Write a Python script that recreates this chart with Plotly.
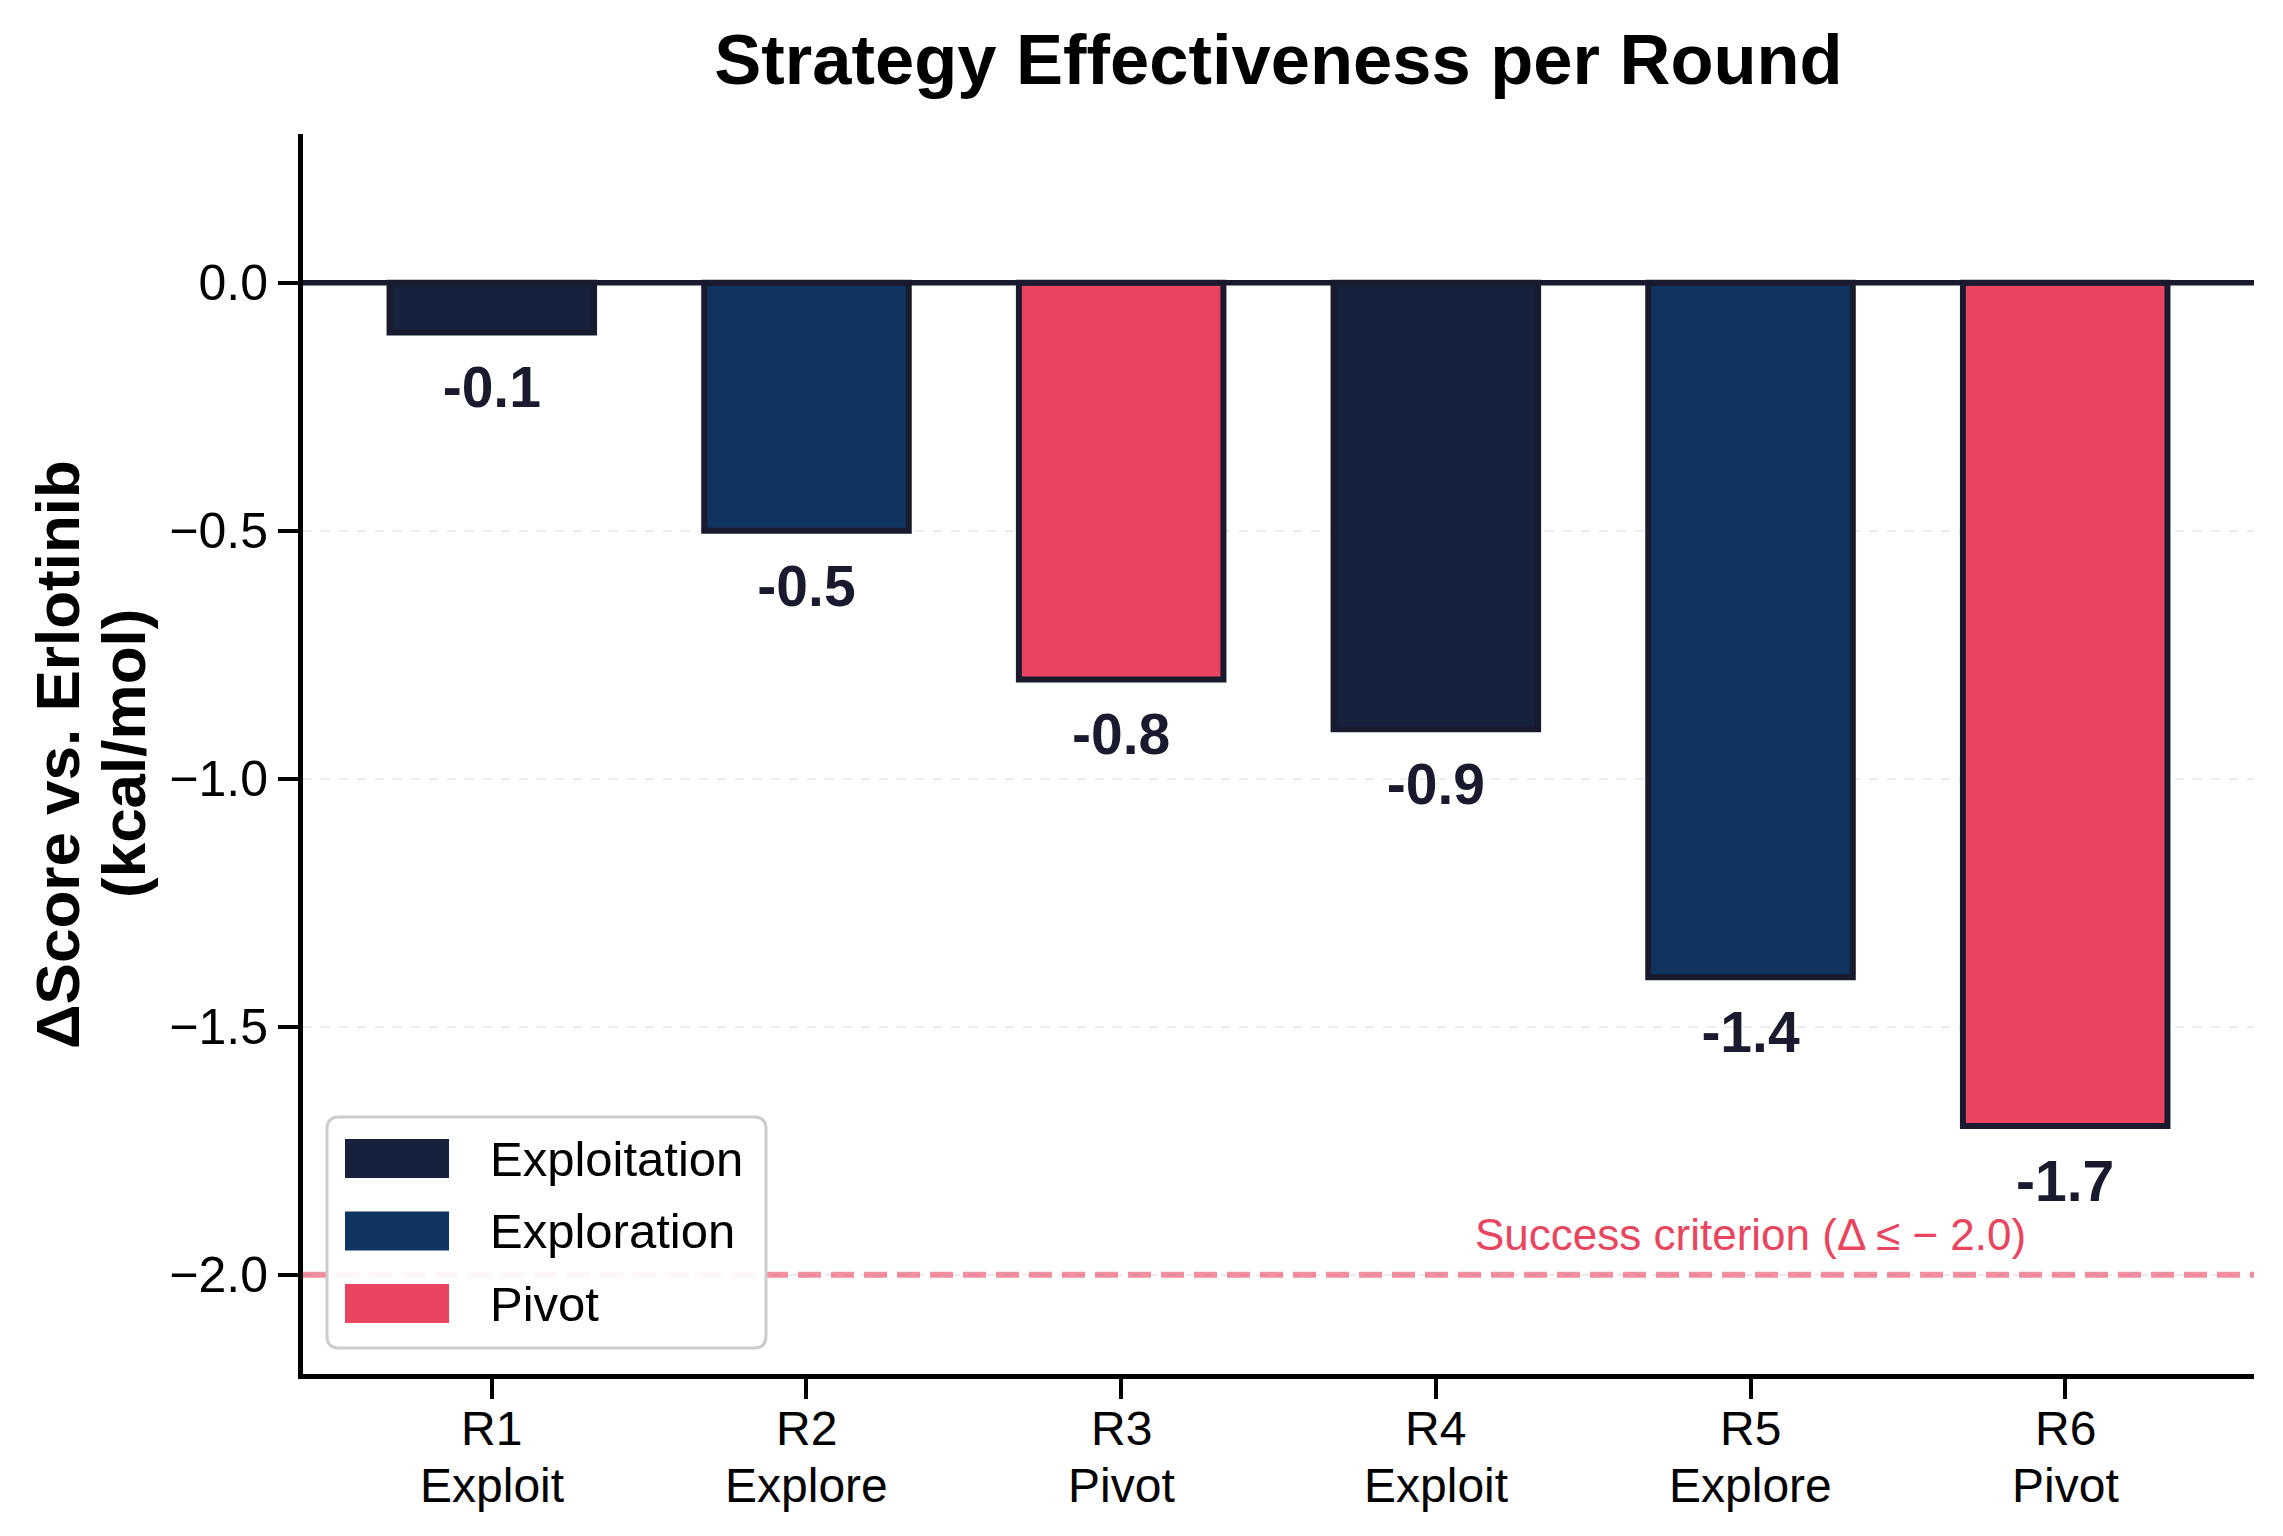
import plotly.graph_objects as go

# ---------------- data ----------------
rounds = ["R1", "R2", "R3", "R4", "R5", "R6"]
strategies = ["Exploit", "Explore", "Pivot", "Exploit", "Explore", "Pivot"]
delta_scores = [-0.1, -0.5, -0.8, -0.9, -1.4, -1.7]
legend_names = ["Exploitation", "Exploration", "Pivot"]
strategy_keys = ["Exploit", "Explore", "Pivot"]
strategy_colors = ["#16213e", "#0f3460", "#e94560"]
success_threshold = -2.0
y_ticks = [0.0, -0.5, -1.0, -1.5, -2.0]

FONT = "Liberation Sans, Arial, Helvetica, sans-serif"
EDGE = "#1a1a2e"

W, H = 2283, 1536
L, R, T, B = 303, 29, 134, 162
pw, ph = W - L - R, H - T - B

x_idx = list(range(len(rounds)))

fig = go.Figure()

for key, name, col in zip(strategy_keys, legend_names, strategy_colors):
    xs = [i for i, s in zip(x_idx, strategies) if s == key]
    ys = [v for v, s in zip(delta_scores, strategies) if s == key]
    fig.add_trace(go.Bar(
        x=xs, y=ys, name=name, width=0.65,
        marker=dict(color=col, line=dict(color=EDGE, width=6)),
        showlegend=False,
    ))

# value labels below bar ends
fig.add_trace(go.Scatter(
    x=x_idx, y=[v - 0.122 for v in delta_scores],
    mode="text",
    text=[f"<b>{v:.1f}</b>" for v in delta_scores],
    textposition="middle center",
    textfont=dict(family=FONT, size=57, color=EDGE),
    showlegend=False, hoverinfo="skip",
))

shapes = []
# zero line
shapes.append(dict(type="line", xref="paper", x0=0, x1=1, yref="y", y0=0, y1=0,
                   line=dict(color=EDGE, width=5.5), layer="above"))
# success criterion line
shapes.append(dict(type="line", xref="paper", x0=0, x1=1, yref="y",
                   y0=success_threshold, y1=success_threshold,
                   line=dict(color="rgba(233,69,96,0.6)", width=6, dash="23px,10px"),
                   layer="above"))


def px2x(p):
    return (p - L) / pw


def px2y(p):
    return (T + ph - p) / ph


# custom legend (paper coords)
bx0, bx1, by0, by1 = px2x(327), px2x(766), px2y(1348), px2y(1117)
rx, ry = 12 / pw, 12 / ph
path = (f"M {bx0+rx},{by0} L {bx1-rx},{by0} Q {bx1},{by0} {bx1},{by0+ry} "
        f"L {bx1},{by1-ry} Q {bx1},{by1} {bx1-rx},{by1} L {bx0+rx},{by1} "
        f"Q {bx0},{by1} {bx0},{by1-ry} L {bx0},{by0+ry} Q {bx0},{by0} {bx0+rx},{by0} Z")
shapes.append(dict(type="path", xref="paper", yref="paper", path=path,
                   fillcolor="rgba(255,255,255,0.93)", line=dict(color="#cccccc", width=3),
                   layer="above"))

annotations = []
row_top = 1139
for i, (name, col) in enumerate(zip(legend_names, strategy_colors)):
    top = row_top + i * 72.5
    shapes.append(dict(type="rect", xref="paper", yref="paper",
                       x0=px2x(345), x1=px2x(449), y0=px2y(top + 39), y1=px2y(top),
                       fillcolor=col, line=dict(width=0), layer="above"))
    annotations.append(dict(xref="paper", yref="paper", x=px2x(488), y=px2y(top + 19.5),
                            text=name, showarrow=False, xanchor="left", yanchor="middle",
                            font=dict(family=FONT, size=49, color="black")))

# two-line x tick labels (round / strategy)
for i, r, s in zip(x_idx, rounds, strategies):
    annotations.append(dict(xref="x", yref="paper", x=i, y=px2y(1428),
                            text=r, showarrow=False, xanchor="center", yanchor="middle",
                            font=dict(family=FONT, size=48, color="black")))
    annotations.append(dict(xref="x", yref="paper", x=i, y=px2y(1485),
                            text=s, showarrow=False, xanchor="center", yanchor="middle",
                            font=dict(family=FONT, size=48, color="black")))

# success criterion text
annotations.append(dict(xref="x", yref="y", x=4.0, y=-1.972,
                        text="Success criterion (Δ ≤ − 2.0)", showarrow=False,
                        xanchor="center", yanchor="bottom",
                        font=dict(family=FONT, size=44, color="#e94560")))

# y axis title (two lines)
annotations.append(dict(xref="paper", yref="paper", x=px2x(57), y=0.5,
                        text="<b>ΔScore vs. Erlotinib</b>", textangle=-90, showarrow=False,
                        xanchor="center", yanchor="middle",
                        font=dict(family=FONT, size=62, color="black")))
annotations.append(dict(xref="paper", yref="paper", x=px2x(123), y=0.5,
                        text="<b>(kcal/mol)</b>", textangle=-90, showarrow=False,
                        xanchor="center", yanchor="middle",
                        font=dict(family=FONT, size=62, color="black")))

fig.update_layout(
    width=W, height=H,
    margin=dict(l=L, r=R, t=T, b=B, pad=0),
    paper_bgcolor="white", plot_bgcolor="white",
    barmode="overlay",
    title=dict(text="<b>Strategy Effectiveness per Round</b>", x=0.5, xref="paper",
               y=1 - 59 / H, yref="container", xanchor="center", yanchor="middle",
               font=dict(family=FONT, size=70.5, color="black")),
    shapes=shapes, annotations=annotations,
    showlegend=False,
)

fig.update_xaxes(
    range=[-0.6, len(rounds) - 0.4],
    tickmode="array", tickvals=x_idx, showticklabels=False,
    showline=True, linecolor="black", linewidth=5, mirror=False,
    ticks="outside", ticklen=20, tickwidth=4, tickcolor="black",
    showgrid=False, zeroline=False,
)
fig.update_yaxes(
    range=[-2.2, 0.3],
    tickmode="array", tickvals=y_ticks, ticktext=[f"{t:.1f}".replace("-", "−") for t in y_ticks],
    showline=True, linecolor="black", linewidth=5, mirror=False,
    ticks="outside", ticklen=20, tickwidth=4, tickcolor="black",
    showgrid=True, gridcolor="#ececec", gridwidth=2, griddash="dash",
    zeroline=False,
    tickfont=dict(family=FONT, size=50, color="black"),
)

fig.write_html("out.html")
